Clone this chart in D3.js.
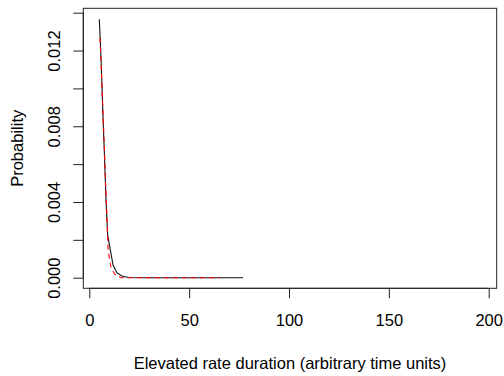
<!DOCTYPE html>
<html>
<head>
<meta charset="utf-8">
<script src="https://cdn.jsdelivr.net/npm/d3@7"></script>
<style>
  body { margin: 0; background: #fff; }
  svg text { font-family: "Liberation Sans", Arial, sans-serif; fill: #000; }
</style>
</head>
<body>
<svg id="chart" width="504" height="376"></svg>
<script>
// simulated durations (black solid)
let simX = [5.0, 5.5, 6.0, 6.5, 7.0, 7.5, 8.1, 8.6, 9.2, 11.9, 13.9, 16.4, 19.4, 30, 77]
let simY = [0.01365, 0.01256, 0.01124, 0.00965, 0.00807, 0.00675, 0.0049, 0.00357, 0.00225, 0.00067, 0.00025, 0.00009, 0.00001, 0, 0]

// expected distribution (red dashed)
let expX = [5.35, 5.9, 6.5, 7.4, 8.1, 8.9, 9.4, 10.9, 13.4, 16.4, 30, 65.4]
let expY = [0.01267, 0.0114, 0.00965, 0.00727, 0.00516, 0.00305, 0.00146, 0.00051, 0.00009, 0, 0, 0]

let xTicks = [0, 50, 100, 150, 200]
let yTicks = [0, 0.002, 0.004, 0.006, 0.008, 0.010, 0.012, 0.014]
let yLabelled = [0, 0.004, 0.008, 0.012]

let svg = d3.select("#chart")
let plot = { left: 83.3, right: 496.7, top: 8.3, bottom: 288.3 }

let x = d3.scaleLinear().domain([-3, 204]).range([plot.left, plot.right])
let y = d3.scaleLinear().domain([-0.00056, 0.014232]).range([plot.bottom, plot.top])

let line = d3.line()
  .x(d => x(d[0]))
  .y(d => y(d[1]))

svg.append("path")
  .datum(d3.zip(simX, simY))
  .attr("d", line)
  .attr("fill", "none")
  .attr("stroke", "#111")
  .attr("stroke-width", 1.1)

svg.append("path")
  .datum(d3.zip(expX, expY))
  .attr("d", line)
  .attr("fill", "none")
  .attr("stroke", "#f00")
  .attr("stroke-width", 1.1)
  .attr("stroke-dasharray", "5,4")

// box
svg.append("rect")
  .attr("x", plot.left)
  .attr("y", plot.top)
  .attr("width", plot.right - plot.left)
  .attr("height", plot.bottom - plot.top)
  .attr("fill", "none")
  .attr("stroke", "#222")
  .attr("stroke-width", 1)

// x axis
let xAxis = d3.axisBottom(x).tickValues(xTicks).tickSize(10).tickPadding(16)
  .tickFormat(d3.format("d"))
let gx = svg.append("g")
  .attr("transform", "translate(0," + plot.bottom + ")")
  .call(xAxis)
gx.select(".domain").attr("d", "M" + x(0) + ",0H" + x(200)).attr("stroke", "#222")
gx.selectAll(".tick line").attr("stroke", "#222")
gx.selectAll("text")
  .attr("font-size", 16.5)
  .style("font-family", "Liberation Sans, Arial, sans-serif")
  .attr("fill", "#000")

// y axis
let yAxis = d3.axisLeft(y).tickValues(yTicks).tickSize(10)
  .tickFormat(d => yLabelled.some(v => Math.abs(v - d) < 1e-9) ? d3.format(".3f")(d) : "")
let gy = svg.append("g")
  .attr("transform", "translate(" + plot.left + ",0)")
  .call(yAxis)
gy.select(".domain").attr("d", "M0," + y(0) + "V" + y(0.014)).attr("stroke", "#222")
gy.selectAll(".tick line").attr("stroke", "#222")
gy.selectAll("text")
  .attr("font-size", 16.5)
  .style("font-family", "Liberation Sans, Arial, sans-serif")
  .attr("fill", "#000")
  .attr("x", null)
  .attr("dy", null)
  .attr("text-anchor", "middle")
  .attr("transform", "translate(-28,0) rotate(-90)")
  .attr("dominant-baseline", "middle")

// titles
svg.append("text")
  .attr("x", (plot.left + plot.right) / 2)
  .attr("y", 369)
  .attr("text-anchor", "middle")
  .attr("font-size", 16.5)
  .text("Elevated rate duration (arbitrary time units)")

svg.append("text")
  .attr("transform", "translate(23," + (plot.top + plot.bottom) / 2 + ") rotate(-90)")
  .attr("text-anchor", "middle")
  .attr("font-size", 16.5)
  .text("Probability")
</script>
</body>
</html>
